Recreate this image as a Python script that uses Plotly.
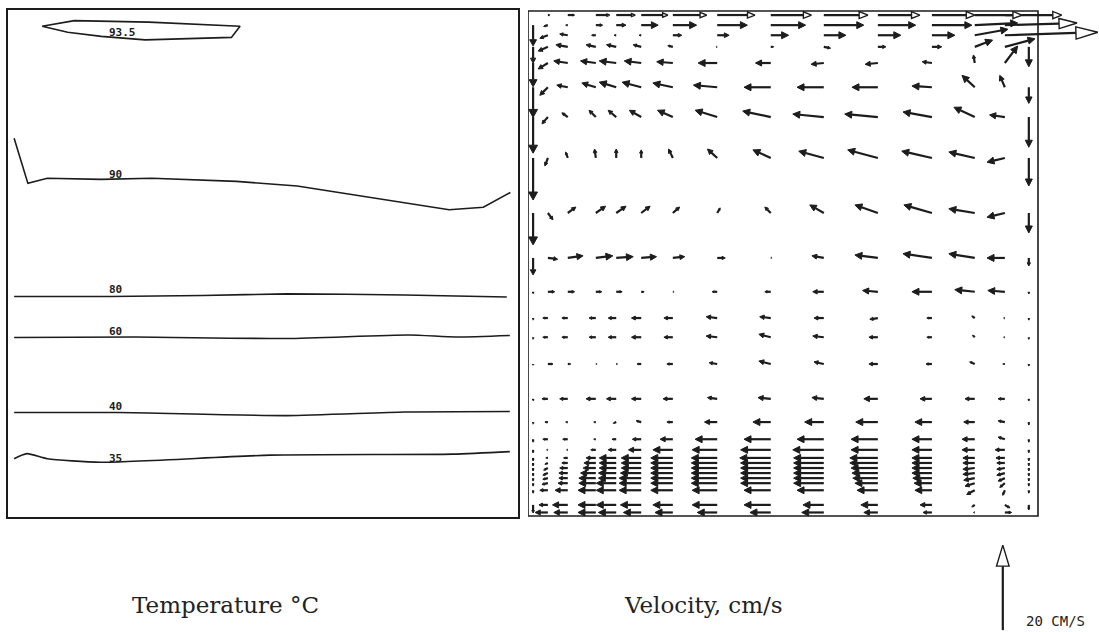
import math
import plotly.graph_objects as go

W, H = 1099, 632

# ---------------- Temperature isotherms (left panel, % of tank width/height) ----------------
iso_labels = ["93.5", "90", "80", "60", "40", "35"]
t935_x = [6.7, 13.0, 27.6, 45.5, 43.8, 26.9, 18.3, 11.7, 6.7]
t935_y = [96.8, 97.9, 97.6, 96.8, 94.6, 94.1, 94.8, 95.6, 96.8]
t90_x = [1.2, 3.9, 7.7, 18.2, 28.2, 44.8, 56.7, 71.3, 86.5, 93.2, 98.5]
t90_y = [74.7, 65.8, 66.8, 66.6, 66.8, 66.2, 65.3, 63.0, 60.6, 61.1, 64.0]
t80_x = [1.2, 20.0, 38.2, 54.7, 77.8, 97.8]
t80_y = [43.5, 43.5, 43.7, 44.0, 43.8, 43.4]
t60_x = [1.2, 24.9, 54.7, 78.6, 87.8, 98.4]
t60_y = [35.4, 35.5, 35.2, 35.9, 35.5, 35.8]
t40_x = [1.2, 21.6, 54.7, 77.8, 98.4]
t40_y = [20.6, 20.6, 20.0, 20.7, 20.8]
t35_x = [1.2, 3.7, 7.7, 18.2, 51.4, 87.2, 98.4]
t35_y = [11.5, 12.5, 11.5, 10.8, 12.2, 12.4, 12.9]
label_x = [22.5, 21.0, 21.0, 21.0, 21.0, 21.0]
label_y = [95.6, 67.5, 44.9, 36.6, 21.7, 11.6]

# ---------------- Velocity field (right panel, cm/s) ----------------
x_cols = [3.9, 7.8, 13.3, 17.3, 22.2, 28.4, 37.1, 47.6, 58.0, 68.6, 79.2, 87.6, 93.5]
y_rows = [97.2, 95.2, 92.9, 89.7, 84.9, 79.0, 70.9, 60.0, 51.1, 44.4, 39.2, 35.4, 30.1,
          23.2, 18.6, 15.2, 13.1, 11.5, 10.5, 9.5, 8.5, 7.5, 6.5, 5.1, 2.2, 0.7]

U = [
    [-1.0, -0.5, 1.6, 2.3, 4.0, 5.6, 7.1, 8.2, 9.4, 8.9, 9.4, 10.1, 0.0],
    [-1.9, -1.9, -1.0, -0.5, -0.5, 2.1, 2.8, 4.2, 5.2, 5.4, 5.4, 7.8, 0.0],
    [-2.3, -2.8, -2.3, -2.3, -1.9, -1.2, -0.3, 0.7, 1.6, 1.9, 2.3, 4.2, 7.1],
    [-2.3, -3.3, -3.6, -4.0, -4.0, -3.8, -4.5, -3.6, -3.0, -3.0, -2.3, -0.3, 3.0],
    [-1.9, -2.6, -3.3, -4.0, -4.5, -4.7, -5.6, -6.3, -6.3, -6.1, -4.7, -3.0, -1.2],
    [-1.4, -1.4, -1.6, -1.9, -2.8, -3.6, -5.2, -6.6, -7.3, -7.8, -6.8, -4.9, -3.6],
    [-0.7, -0.5, -0.3, 0.0, 0.0, -1.0, -2.3, -4.2, -5.9, -7.1, -7.1, -6.1, -4.2],
    [1.2, 1.9, 2.3, 2.3, 2.1, 1.6, 0.7, -1.4, -3.3, -5.4, -6.6, -6.1, -4.2],
    [2.3, 3.6, 4.0, 4.0, 3.6, 2.8, 1.9, 0.3, -2.8, -5.4, -6.8, -6.1, -4.2],
    [1.6, 1.6, 1.4, 1.4, 0.7, 0.3, -1.2, -1.4, -2.6, -3.6, -4.7, -4.7, -4.0],
    [-1.2, -1.4, -1.6, -1.9, -2.3, -2.1, -2.6, -2.6, -2.3, -1.9, -1.2, -0.7, -0.3],
    [-1.2, -1.4, -1.6, -1.9, -2.3, -2.1, -2.6, -2.8, -2.6, -2.1, -1.2, -0.5, -0.3],
    [1.2, 0.7, 0.3, 0.3, -1.0, -1.4, -1.9, -2.8, -2.3, -2.1, -1.4, -1.2, -0.5],
    [-1.4, -1.9, -2.3, -2.3, -2.3, -2.3, -2.3, -3.0, -2.8, -3.3, -2.8, -2.3, -1.6],
    [-0.7, -0.5, -0.5, -0.7, -1.2, -1.4, -3.0, -4.2, -4.5, -5.2, -4.0, -2.6, -1.6],
    [-1.2, -1.2, -0.5, -1.0, -2.1, -3.0, -5.2, -6.3, -6.3, -6.3, -4.7, -3.0, -1.6],
    [-0.3, -0.3, -1.2, -1.9, -3.0, -4.7, -5.9, -7.1, -7.3, -6.3, -4.7, -3.0, -2.3],
    [-0.5, -1.0, -2.3, -4.0, -4.7, -5.2, -6.1, -7.3, -7.1, -6.6, -4.7, -2.8, -2.1],
    [-0.7, -1.4, -2.8, -4.0, -4.7, -5.2, -6.1, -7.1, -7.1, -6.6, -4.7, -2.8, -1.9],
    [-1.0, -1.9, -3.0, -4.0, -4.7, -5.2, -6.1, -7.1, -7.1, -6.3, -4.7, -2.8, -1.9],
    [-1.2, -2.1, -3.6, -4.2, -4.9, -5.2, -6.1, -7.1, -7.1, -6.1, -4.7, -2.8, -1.9],
    [-1.2, -2.1, -4.0, -4.2, -5.2, -5.2, -6.1, -7.1, -7.1, -5.9, -4.5, -2.6, -1.6],
    [-1.4, -2.3, -4.0, -4.7, -5.2, -5.2, -6.1, -7.1, -7.1, -5.4, -4.2, -2.3, -1.2],
    [-1.9, -3.0, -4.2, -4.7, -5.2, -5.2, -5.9, -6.3, -6.3, -4.9, -4.0, -1.9, -0.5],
    [-2.1, -3.6, -4.2, -4.7, -4.9, -4.7, -5.9, -6.3, -4.9, -4.0, -2.8, -0.7, 1.2],
    [-3.0, -3.3, -4.2, -4.2, -4.2, -4.2, -4.7, -4.9, -5.2, -3.3, -2.1, -0.3, 1.6],
]
V = [
    [-0.3, 0, 0, 0, 0, 0, 0, 0, 0, 0, 0, 0.5, 0],
    [-0.7, 0.3, 0, 0, 0, 0, 0, 0, 0, 0, 0, 1.4, 0],
    [-1.0, 0.5, 0.5, 0.5, 0.5, 0.3, 0, 0, -0.3, 0, 0, 1.6, 1.9],
    [-1.4, 0.5, 0.5, 0.5, 0.5, 0.3, 0, 0, -0.3, -0.3, 0.3, 1.9, 4.0],
    [-1.9, 0.5, 1.0, 1.2, 1.2, 1.0, 0.5, 0, 0, 0, 0.3, 2.8, 2.8],
    [-1.6, 1.0, 1.6, 1.6, 1.6, 1.6, 1.6, 1.4, 0.7, 0.7, 1.2, 2.3, 0.5],
    [-1.9, 1.4, 2.1, 2.1, 1.9, 2.1, 2.1, 1.9, 1.6, 1.9, 1.6, 1.4, -1.0],
    [-1.6, 1.4, 1.6, 1.6, 1.6, 1.4, 1.2, 1.4, 1.9, 1.9, 1.9, 1.0, -1.0],
    [-0.3, 0.5, 0.5, 0.3, 0.3, 0.3, 0, 0, 0.5, 0.7, 1.0, 1.0, 0],
    [0, 0, 0, 0, 0, 0, 0, 0, 0, 0.3, 0, 0.5, 0.3],
    [0, 0, 0, 0, 0, 0, 0.3, 0.3, 0, -0.3, 0, 0.5, 0],
    [0, 0, 0, 0, 0, 0, 0.3, 0.7, 0.3, 0, 0, 0.5, 0],
    [0, 0, 0, 0, 0, 0, 0.3, 0.7, 0.5, 0, 0, 0.5, 0],
    [0, 0, 0, 0, 0, 0, 0.3, 0.3, 0.3, 0, 0, 0, 0],
    [0, 0, 0, -0.3, 0.3, 0, 0, 0, 0, 0, 0, 0, 0.3],
    [0, 0, 0, 0, 0, 0, 0, 0, 0, 0, 0, 0, 0.5],
    [0, 0, 0, 0, 0, 0, 0, 0, 0, 0, 0, 0, 0],
    [0, 0, 0, 0, 0, 0, 0, 0, 0, 0, 0, 0, 0],
    [-0.3, 0, 0, 0, 0, 0, 0, 0, 0, 0, 0, 0, 0],
    [-0.5, 0, 0, 0, 0, 0, 0, 0, 0, 0, 0, -0.3, -0.3],
    [-0.5, 0, 0, 0, 0, 0, 0, 0, 0, 0, 0, -0.3, -0.5],
    [-0.3, 0, 0, 0, 0, 0, 0, 0, 0, 0, 0, -0.5, -0.7],
    [-0.3, 0, 0, 0, 0, 0, 0, 0, 0, 0, 0, -0.7, -1.0],
    [0, 0, 0, 0, 0, 0, 0, 0, 0, 0, 0, -1.0, -1.2],
    [0, 0, 0, 0, 0, 0, 0, 0, 0, 0, 0, -0.5, -0.7],
    [0, 0, 0, 0, 0, 0, 0, 0, 0, 0, 0, 0, 0],
]

# wall (boundary) velocities along the left and right walls, and along the free surface
x_left_wall = 1.0
v_left_wall = [-4.9, 0, -3.8, -5.6, -7.1, -8.5, -9.9, -7.5, -4.0, -0.5, -0.5, -0.5, -0.3,
               -0.5, -0.5, -0.7, -0.7, -0.7, -0.7, -0.7, -0.7, -0.7, -0.7, -0.7, -1.9, 0]
x_right_wall = 98.2
v_right_wall = [0, 0, -4.7, 0, -3.8, -7.1, -6.6, -4.7, -1.9, -0.5, -0.5, -0.5, -0.5,
                -0.5, -0.7, -0.7, -0.7, -0.7, -0.7, -0.7, -0.7, -0.7, -0.7, -0.7, -1.2, 0]
y_surface = 99.2
u_surface = [0.5, 1.6, 3.3, 4.5, 6.3, 8.0, 8.9, 9.6, 10.4, 9.9, 10.1, 11.1, 13.4]
x_outlet = [93.5, 93.5]
y_outlet = [97.2, 95.2]
u_outlet = [17.0, 21.9]
v_outlet = [0.5, 0.7]

ref_speed = 20.0          # cm/s reference arrow
ref_x, ref_y = 93.1, -22.6

# ---------------- geometry helpers ----------------
RB_X0, RB_X1, RB_Y0, RB_Y1 = 528, 1038, 11, 516   # right panel box (px)
KX = (RB_X1 - RB_X0) / 100.0     # px per data unit (x)
KY = (RB_Y1 - RB_Y0) / 100.0     # px per data unit (y)
S = 85.0 / ref_speed             # px per cm/s (length of the 20 cm/s key arrow)


def quiver(xs, ys, us, vs, hl_frac, hl_max, hw):
    sx, sy, hx_, hy_ = [], [], [], []
    for x, y, u, v in zip(xs, ys, us, vs):
        dx, dy = u * S, v * S
        L = math.hypot(dx, dy)
        if L < 0.2:
            continue
        ex, ey = dx / L, dy / L
        tx, ty = x * KX, y * KY
        px, py = tx + dx, ty + dy
        h = min(hl_max, hl_frac * L)
        w = hw * h
        bx, by = px - h * ex, py - h * ey
        sx += [tx / KX, bx / KX, None]
        sy += [ty / KY, by / KY, None]
        hx_ += [px / KX, (bx - w * ey) / KX, (bx + w * ey) / KX, px / KX, None]
        hy_ += [py / KY, (by + w * ex) / KY, (by - w * ex) / KY, py / KY, None]
    return sx, sy, hx_, hy_


INK = "#1c1c1c"
fig = go.Figure()

# left panel isotherms
for xs, ys, shp in [(t935_x, t935_y, "linear"), (t90_x, t90_y, "linear"),
                    (t80_x, t80_y, "spline"), (t60_x, t60_y, "spline"),
                    (t40_x, t40_y, "spline"), (t35_x, t35_y, "spline")]:
    fig.add_trace(go.Scatter(x=xs, y=ys, mode="lines", xaxis="x", yaxis="y",
                             line=dict(color=INK, width=1.6, shape=shp, smoothing=0.6),
                             hoverinfo="skip"))

# interior + right-wall arrows (filled heads)
gx, gy, gu, gv = [], [], [], []
for j, yy in enumerate(y_rows):
    for i, xx in enumerate(x_cols):
        gx.append(xx); gy.append(yy); gu.append(U[j][i]); gv.append(V[j][i])
gx += [x_right_wall] * len(y_rows); gy += list(y_rows)
gu += [0.0] * len(y_rows); gv += list(v_right_wall)

fs_x, fs_y, fh_x, fh_y = quiver(gx, gy, gu, gv, 0.4, 7.0, 0.5)
wx, wy, whx, why = quiver([x_left_wall] * len(y_rows), y_rows, [0.0] * len(y_rows),
                          v_left_wall, 0.3, 8.0, 0.55)

# hollow-headed arrows: free surface, outlet, key arrow
lx, ly, lhx, lhy = quiver(x_cols, [y_surface] * len(x_cols), u_surface, [0.0] * len(x_cols), 0.2, 9.0, 0.4)
ox, oy, ohx, ohy = quiver(x_outlet, y_outlet, u_outlet, v_outlet, 0.25, 22.0, 0.28)
rx, ry, rhx, rhy = quiver([ref_x], [ref_y], [0.0], [ref_speed], 0.25, 21.0, 0.3)

fig.add_trace(go.Scatter(x=fs_x + wx + lx + ox + rx, y=fs_y + wy + ly + oy + ry, mode="lines",
                         xaxis="x2", yaxis="y2", line=dict(color=INK, width=2.2),
                         hoverinfo="skip"))
fig.add_trace(go.Scatter(x=fh_x + whx, y=fh_y + why, mode="lines", fill="toself", fillcolor=INK,
                         xaxis="x2", yaxis="y2", line=dict(color=INK, width=1.0),
                         hoverinfo="skip"))
fig.add_trace(go.Scatter(x=lhx + ohx + rhx, y=lhy + ohy + rhy, mode="lines",
                         fill="toself", fillcolor="white",
                         xaxis="x2", yaxis="y2", line=dict(color=INK, width=1.4),
                         hoverinfo="skip"))

annotations = []
for t, xx, yy in zip(iso_labels, label_x, label_y):
    annotations.append(dict(x=xx, y=yy, xref="x", yref="y", text="<b>" + t + "</b>",
                            xanchor="center", yanchor="middle", showarrow=False,
                            font=dict(family="DejaVu Sans Mono", size=11, color=INK)))
annotations += [
    dict(x=225 / W, y=1 - 605 / H, xref="paper", yref="paper", text="Temperature °C",
         xanchor="center", yanchor="middle", showarrow=False,
         font=dict(family="DejaVu Serif", size=23, color="#222")),
    dict(x=703 / W, y=1 - 605 / H, xref="paper", yref="paper", text="Velocity, cm/s",
         xanchor="center", yanchor="middle", showarrow=False,
         font=dict(family="DejaVu Serif", size=23, color="#222")),
    dict(x=1024 / W, y=1 - 621 / H, xref="paper", yref="paper", text="20 CM/S",
         xanchor="left", yanchor="middle", showarrow=False,
         font=dict(family="DejaVu Sans Mono", size=14, color="#222")),
]

fig.update_layout(
    width=W, height=H, margin=dict(l=0, r=0, t=0, b=0),
    paper_bgcolor="white", plot_bgcolor="white", showlegend=False,
    xaxis=dict(domain=[8 / W, 518 / W], range=[0, 100], showgrid=False, zeroline=False,
               showticklabels=False, ticks="", showline=True, mirror=True,
               linecolor=INK, linewidth=1.6, anchor="y"),
    yaxis=dict(domain=[1 - 517 / H, 1 - 10 / H], range=[0, 100], showgrid=False, zeroline=False,
               showticklabels=False, ticks="", showline=True, mirror=True,
               linecolor=INK, linewidth=1.6, anchor="x"),
    xaxis2=dict(domain=[RB_X0 / W, 1], range=[0, (W - RB_X0) / KX], visible=False, anchor="y2"),
    yaxis2=dict(domain=[0, 1], range=[-(H - RB_Y1) / KY, 100 + RB_Y0 / KY], visible=False, anchor="x2"),
    shapes=[dict(type="rect", xref="x2", yref="y2", x0=0, x1=100, y0=0, y1=100,
                 line=dict(color=INK, width=1.6))],
    annotations=annotations,
)

fig.write_html("out.html", config={"displayModeBar": False},
               post_script="document.body.style.margin='0px';document.body.style.overflow='hidden';")
